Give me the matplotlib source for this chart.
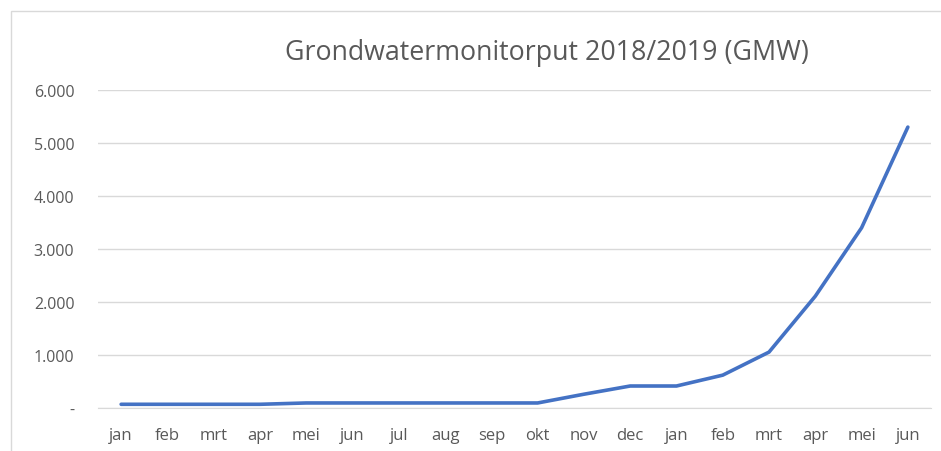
import matplotlib
matplotlib.use("Agg")
import matplotlib.pyplot as plt
from matplotlib.patches import Rectangle

months = ["jan", "feb", "mrt", "apr", "mei", "jun", "jul", "aug", "sep", "okt",
          "nov", "dec", "jan", "feb", "mrt", "apr", "mei", "jun"]
values = [70, 70, 70, 70, 95, 95, 95, 95, 95, 95, 260, 415, 415, 620, 1055, 2110, 3400, 5300]
yticks = [0, 1000, 2000, 3000, 4000, 5000, 6000]
ylabels = ["-", "1.000", "2.000", "3.000", "4.000", "5.000", "6.000"]
title = "Grondwatermonitorput 2018/2019 (GMW)"

W, H = 941, 452
fig = plt.figure(figsize=(W / 100, H / 100), dpi=100)
fig.patch.set_facecolor("white")

# outer chart border
fig.patches.append(Rectangle((11 / W, -0.1), 1.2, 1 - 12 / H + 0.1, transform=fig.transFigure,
                             fill=False, edgecolor="#d9d9d9", linewidth=1.0))

ax = fig.add_axes([98 / W, 1 - 409 / H, (931 - 98) / W, (409 - 91) / H])
x = list(range(len(months)))
ax.plot(x, values, color="#4472C4", linewidth=2.6, solid_capstyle="round", zorder=3)
ax.set_xlim(-0.5, len(months) - 0.5)
ax.set_ylim(0, 6000)
ax.set_yticks(yticks)
ax.set_yticklabels(ylabels, fontsize=11.5, color="#595959", family="Open Sans")
ax.set_xticks(x)
ax.set_xticklabels(months, fontsize=12, color="#595959", family="Open Sans")
ax.tick_params(axis="both", length=0)
ax.tick_params(axis="y", pad=17)
ax.tick_params(axis="x", pad=13.5)
ax.grid(axis="y", color="#d9d9d9", linewidth=1)
ax.set_axisbelow(True)
for s in ax.spines.values():
    s.set_visible(False)
ax.spines["bottom"].set_visible(True)
ax.spines["bottom"].set_color("#d9d9d9")

fig.text(547 / W, 1 - 53 / H, title, ha="center", va="center", fontsize=19.3,
         color="#595959", family="Open Sans")

fig.savefig("out.png", dpi=100)
